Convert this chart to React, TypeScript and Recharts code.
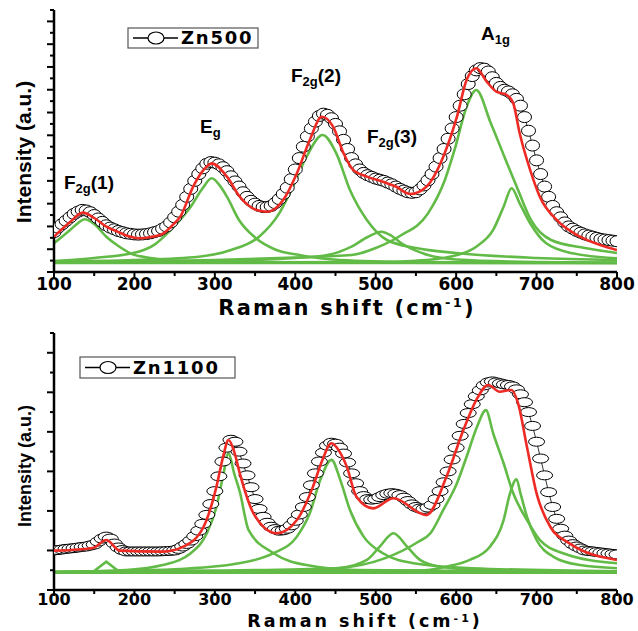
import React from "react";
import { ComposedChart, Line, XAxis, YAxis } from "recharts";

type Pt = [number, number];

// Raman shift grid of the measured points (cm-1)
const ramanShift = [
  100, 105, 110, 115, 120, 125, 130, 135, 140, 145, 150, 155, 160, 165, 170, 175, 180, 185, 190, 195,
  200, 205, 210, 215, 220, 225, 230, 235, 240, 245, 250, 255, 260, 265, 270, 275, 280, 285, 290, 295,
  300, 305, 310, 315, 320, 325, 330, 335, 340, 345, 350, 355, 360, 365, 370, 375, 380, 385, 390, 395,
  400, 405, 410, 415, 420, 425, 430, 435, 440, 445, 450, 455, 460, 465, 470, 475, 480, 485, 490, 495,
  500, 505, 510, 515, 520, 525, 530, 535, 540, 545, 550, 555, 560, 565, 570, 575, 580, 585, 590, 595,
  600, 605, 610, 615, 620, 625, 630, 635, 640, 645, 650, 655, 660, 665, 670, 675, 680, 685, 690, 695,
  700, 705, 710, 715, 720, 725, 730, 735, 740, 745, 750, 755, 760, 765, 770, 775, 780, 785, 790, 795,
  800,
];

const X_TICKS = [100, 150, 200, 250, 300, 350, 400, 450, 500, 550, 600, 650, 700, 750, 800];

// ---- Zn500 ----
const zn500Counts = [
  3.5, 3.9, 4.2, 4.5, 4.8, 5.1, 5.3, 5.45, 5.4, 5.25, 5.0, 4.7, 4.4, 4.1, 3.9, 3.75, 3.6, 3.5, 3.4, 3.35,
  3.3, 3.28, 3.3, 3.33, 3.4, 3.5, 3.6, 3.8, 4.0, 4.35, 4.8, 5.3, 5.9, 6.6, 7.3, 8.0, 8.6, 9.1, 9.5, 9.65,
  9.6, 9.45, 9.2, 8.85, 8.4, 7.95, 7.5, 7.0, 6.6, 6.25, 6.0, 5.8, 5.7, 5.7, 5.8, 6.05, 6.4, 6.85, 7.4, 8.15,
  9.0, 10.0, 11.0, 11.9, 12.6, 13.2, 13.7, 13.9, 13.8, 13.5, 13.0, 12.35, 11.6, 10.8, 10.0, 9.45, 9.0, 8.7, 8.5, 8.35,
  8.2, 8.1, 8.0, 7.85, 7.7, 7.5, 7.3, 7.15, 7.0, 6.95, 7.0, 7.25, 7.6, 8.05, 8.6, 9.25, 10.0, 10.8, 11.7, 12.6,
  13.6, 14.6, 15.6, 16.5, 17.2, 17.7, 17.9, 17.85, 17.6, 17.1, 16.6, 16.25, 16.0, 15.85, 15.6, 15.2, 14.6, 13.6, 12.4, 11.1,
  9.8, 8.6, 7.5, 6.6, 5.8, 5.25, 4.8, 4.35, 4.0, 3.8, 3.6, 3.45, 3.3, 3.2, 3.1, 3.0, 2.9, 2.85, 2.8, 2.75,
  2.7,
];

const zn500Fit: Pt[] = [
  [100, 3.1], [120, 4.39], [136, 5.21], [150, 4.74], [165, 3.98], [180, 3.51], [195, 3.1], [207, 2.96],
  [220, 3.07], [236, 3.4], [250, 4.3], [257, 4.86], [273, 7.49], [286, 8.96], [296, 9.54], [315, 8.37],
  [331, 6.61], [352, 5.44], [365, 5.29], [385, 6.32], [402, 8.67], [418, 11.59], [433, 13.63], [447, 12.76],
  [460, 10.42], [472, 8.96], [489, 8.37], [510, 7.9], [525, 7.5], [543, 6.85], [563, 7.49], [584, 10.12],
  [601, 13.63], [613, 16.86], [625, 17.88], [638, 16.71], [650, 15.83], [663, 15.54], [671, 14.81],
  [679, 12.18], [692, 8.96], [704, 6.61], [725, 4.57], [754, 3.1], [779, 2.37], [800, 1.93],
];

const zn500Baseline: Pt[] = [[100, 0.79], [800, 0.79]];
const zn500F2g1: Pt[] = [
  [100, 2.52], [110, 3.1], [120, 3.69], [130, 4.3], [138, 4.63], [150, 4.21], [165, 3.1], [180, 2.28],
  [195, 1.64], [220, 1.23], [250, 1.01], [300, 0.88], [400, 0.83], [800, 0.79],
];
const zn500Eg: Pt[] = [
  [100, 0.97], [150, 1.23], [205, 1.78], [225, 2.4], [245, 3.69], [270, 5.73], [285, 7.37], [296, 8.23],
  [306, 7.6], [315, 6.61], [330, 4.57], [350, 3.03], [375, 1.98], [405, 1.49], [455, 1.05], [550, 0.88], [800, 0.79],
];
const zn500F2g2: Pt[] = [
  [100, 0.92], [200, 1.05], [280, 1.34], [320, 1.93], [355, 3.1], [380, 5.15], [397, 7.49], [414, 10.12],
  [434, 12.03], [451, 10.42], [468, 7.2], [489, 4.57], [514, 2.81], [550, 2.11], [600, 1.67], [700, 1.23], [800, 1.05],
];
const zn500F2g3: Pt[] = [
  [100, 0.83], [350, 1.05], [400, 1.23], [440, 1.49], [470, 2.22], [490, 3.07], [507, 3.54], [520, 3.16],
  [532, 2.52], [565, 1.49], [600, 1.1], [700, 0.88], [800, 0.83],
];
const zn500A1g: Pt[] = [
  [100, 0.88], [300, 1.05], [400, 1.27], [470, 1.49], [500, 2.1], [530, 3.16], [565, 5.15], [586, 8.08],
  [598, 10.71], [613, 14.51], [625, 15.98], [643, 13.08], [660, 10.12], [677, 7.2], [693, 4.57], [718, 2.81],
  [760, 2.11], [800, 1.67],
];
const zn500A1gShoulder: Pt[] = [
  [100, 0.81], [500, 0.88], [550, 0.99], [592, 1.34], [625, 2.22], [646, 3.69], [659, 5.73], [669, 7.35],
  [679, 6.03], [692, 4.28], [712, 2.52], [745, 1.64], [800, 1.2],
];

// ---- Zn1100 ----
const zn1100Counts = [
  2.0, 2.02, 2.05, 2.08, 2.1, 2.12, 2.15, 2.18, 2.2, 2.25, 2.3, 2.45, 2.6, 2.7, 2.6, 2.35, 2.15, 2.02, 1.95, 1.95,
  1.95, 1.95, 1.95, 1.95, 1.95, 1.95, 1.95, 1.96, 1.97, 1.98, 2.0, 2.08, 2.2, 2.33, 2.5, 2.72, 3.0, 3.35, 3.8, 4.35,
  5.0, 5.75, 6.5, 7.2, 7.6, 7.5, 7.0, 6.4, 5.8, 5.2, 4.6, 4.1, 3.7, 3.4, 3.2, 3.08, 3.0, 3.02, 3.1, 3.27,
  3.5, 3.82, 4.2, 4.7, 5.3, 5.9, 6.5, 6.95, 7.3, 7.45, 7.4, 7.2, 6.9, 6.45, 5.9, 5.4, 5.0, 4.75, 4.6, 4.57,
  4.6, 4.7, 4.8, 4.87, 4.9, 4.87, 4.8, 4.67, 4.5, 4.33, 4.2, 4.12, 4.1, 4.17, 4.3, 4.6, 5.0, 5.45, 6.0, 6.6,
  7.2, 7.8, 8.4, 8.95, 9.4, 9.8, 10.1, 10.35, 10.5, 10.55, 10.5, 10.45, 10.4, 10.37, 10.3, 10.15, 9.9, 9.5, 9.0, 8.3,
  7.5, 6.65, 5.8, 4.95, 4.2, 3.6, 3.1, 2.75, 2.5, 2.32, 2.2, 2.1, 2.0, 1.97, 1.95, 1.92, 1.9, 1.87, 1.85, 1.82,
  1.8,
];

const zn1100Fit: Pt[] = [
  [100, 1.99], [130, 2.05], [149, 2.14], [165, 2.53], [182, 1.99], [236, 1.94], [261, 2.19], [286, 3.2],
  [302, 5.23], [310, 6.7], [317, 7.59], [324, 7.0], [331, 5.9], [348, 3.88], [377, 2.87], [402, 3.54],
  [422, 5.23], [433, 6.5], [445, 7.42], [455, 7.0], [464, 6.24], [476, 4.72], [497, 4.13], [522, 4.64],
  [563, 3.79], [588, 5.73], [609, 8.09], [625, 9.61], [640, 10.37], [654, 10.03], [669, 10.12], [677, 9.44],
  [688, 7.25], [700, 4.89], [717, 3.2], [741, 2.36], [800, 1.52],
];

const zn1100Baseline: Pt[] = [[100, 0.88], [800, 0.88]];
const zn1100Band165: Pt[] = [[100, 0.88], [148, 0.9], [165, 1.43], [182, 0.9], [800, 0.88]];
const zn1100Eg: Pt[] = [
  [100, 0.9], [190, 1.01], [235, 1.26], [270, 1.86], [290, 2.87], [302, 4.21], [310, 5.73], [317, 6.91],
  [324, 5.9], [331, 4.97], [342, 3.03], [373, 1.86], [414, 1.26], [476, 1.01], [800, 0.9],
];
const zn1100F2g2: Pt[] = [
  [100, 0.92], [250, 1.05], [330, 1.35], [373, 1.86], [402, 2.7], [418, 3.88], [431, 5.56], [445, 6.58],
  [456, 5.56], [468, 4.05], [485, 2.7], [509, 1.86], [547, 1.35], [620, 1.1], [800, 0.95],
];
const zn1100F2g3: Pt[] = [
  [100, 0.9], [400, 0.95], [455, 1.1], [489, 1.52], [505, 2.19], [522, 2.87], [539, 2.19], [555, 1.52],
  [580, 1.18], [650, 0.98], [800, 0.9],
];
const zn1100A1g: Pt[] = [
  [100, 0.92], [300, 0.98], [449, 1.1], [511, 1.6], [553, 2.44], [568, 2.87], [584, 4.05], [601, 5.4],
  [613, 6.74], [626, 8.26], [637, 9.1], [646, 7.93], [659, 6.41], [671, 4.89], [688, 3.54], [704, 2.53],
  [733, 1.86], [800, 1.35],
];
const zn1100A1gShoulder: Pt[] = [
  [100, 0.9], [550, 0.98], [588, 1.18], [617, 1.52], [642, 2.19], [659, 3.54], [667, 4.89], [675, 5.6],
  [680, 4.89], [688, 3.71], [700, 2.53], [721, 1.68], [754, 1.26], [800, 1.1],
];

const GREEN = "#62bb46";
const RED = "#ee2a24";
const BOLD_FONT = "'DejaVu Sans', sans-serif";
const LABEL_FONT = "'Liberation Sans', Arial, sans-serif";

const PLOT_LEFT = 54;
const PLOT_RIGHT = 617;

const rows = (pts: Pt[]) => pts.map(([x, y]) => ({ x, y }));

type PanelProps = {
  height: number;
  plotTop: number;
  plotBottom: number;
  yMax: number;
  counts: number[];
  fit: Pt[];
  components: { pts: Pt[]; linear?: boolean }[];
  ringRx: number;
  ringRy: number;
  legend: string;
  legendBox: { x: number; y: number; w: number; h: number };
  yTitle: { x: number; y: number; size: number };
  tickDy: number;
  tickSize: number;
  xTitleX: number;
  xTitleDy: number;
  xTitleSize: number;
  xTitleSpacing: number;
  supDy: number;
  supSize: number;
  children?: React.ReactNode;
};

function Panel(p: PanelProps) {
  const points = ramanShift.map((x, i) => ({ x, y: p.counts[i] }));
  const yTicks = Array.from({ length: p.yMax + 1 }, (_, i) => i);

  const XTick = (props: any) => {
    const { x, payload } = props;
    const major = payload.value % 100 === 0;
    return (
      <g>
        <line x1={x} x2={x} y1={p.plotBottom} y2={p.plotBottom + (major ? 6 : 4)} stroke="#000" strokeWidth={2} />
        {major && (
          <text x={x} y={p.plotBottom + p.tickDy} textAnchor="middle" fontFamily={BOLD_FONT} fontWeight="bold" fontSize={p.tickSize} fill="#000">
            {payload.value}
          </text>
        )}
      </g>
    );
  };

  const YTick = (props: any) => {
    const { y, payload } = props;
    const len = payload.value % 2 === 0 ? 7 : 4;
    return <line x1={PLOT_LEFT - len} x2={PLOT_LEFT} y1={y} y2={y} stroke="#000" strokeWidth={2} />;
  };

  const Ring = (props: any) => {
    const { cx, cy, index } = props;
    if (cx == null || cy == null) return <g key={index} />;
    return <ellipse key={index} cx={cx} cy={cy} rx={p.ringRx} ry={p.ringRy} fill="#fff" stroke="#000" strokeWidth={1} />;
  };

  const lb = p.legendBox;
  const cy = lb.y + lb.h / 2;

  return (
    <div style={{ position: "relative", width: 638, height: p.height }}>
      <div style={{ position: "absolute", left: 0, top: 0 }}>
        <ComposedChart
          width={638}
          height={p.height}
          margin={{ top: p.plotTop, right: 638 - PLOT_RIGHT, bottom: p.height - p.plotBottom - 30, left: PLOT_LEFT - 10 }}
        >
          <XAxis
            dataKey="x"
            type="number"
            domain={[100, 800]}
            ticks={X_TICKS}
            interval={0}
            allowDataOverflow
            height={30}
            tickLine={false}
            axisLine={{ stroke: "#000", strokeWidth: 2.5 }}
            tick={<XTick />}
          />
          <XAxis xAxisId="top" orientation="top" type="number" domain={[100, 800]} height={0} tick={false} tickLine={false} axisLine={{ stroke: "#000", strokeWidth: 2.5 }} />
          <YAxis
            type="number"
            domain={[0, p.yMax]}
            ticks={yTicks}
            interval={0}
            allowDataOverflow
            width={10}
            tickLine={false}
            axisLine={{ stroke: "#000", strokeWidth: 2.5 }}
            tick={<YTick />}
          />
          <YAxis yAxisId="right" orientation="right" type="number" domain={[0, p.yMax]} width={0} tick={false} tickLine={false} axisLine={{ stroke: "#000", strokeWidth: 2.5 }} />

          {p.components.map((c, i) => (
            <Line
              key={"c" + i}
              data={rows(c.pts)}
              dataKey="y"
              type={c.linear ? "linear" : "monotone"}
              stroke={GREEN}
              strokeWidth={2.6}
              dot={false}
              isAnimationActive={false}
            />
          ))}
          <Line data={points} dataKey="y" type="linear" stroke="#000" strokeWidth={0.8} dot={<Ring />} isAnimationActive={false} />

          {/* legend */}
          <rect x={lb.x} y={lb.y} width={lb.w} height={lb.h} fill="#fff" stroke="#555" strokeWidth={1.2} />
          <line x1={lb.x + 5} x2={lb.x + 50} y1={cy} y2={cy} stroke="#000" strokeWidth={1.5} />
          <ellipse cx={lb.x + 28} cy={cy} rx={8} ry={6} fill="#fff" stroke="#000" strokeWidth={1.2} />
          <text x={lb.x + 53} y={cy + 6} fontFamily={BOLD_FONT} fontWeight="bold" fontSize={18} letterSpacing={1.8} fill="#000">
            {p.legend}
          </text>

          {/* axis titles */}
          <text
            x={p.yTitle.x}
            y={p.yTitle.y}
            transform={`rotate(-90, ${p.yTitle.x}, ${p.yTitle.y})`}
            textAnchor="middle"
            fontFamily={LABEL_FONT}
            fontWeight="bold"
            fontSize={p.yTitle.size}
            fill="#000"
          >
            Intensity (a.u.)
          </text>
          <text
            x={p.xTitleX}
            y={p.plotBottom + p.xTitleDy}
            textAnchor="middle"
            fontFamily={BOLD_FONT}
            fontWeight="bold"
            fontSize={p.xTitleSize}
            letterSpacing={p.xTitleSpacing}
            fill="#000"
          >
            Raman shift (cm<tspan dy={-p.supDy} fontSize={p.supSize}>-1</tspan>
            <tspan dy={p.supDy}>)</tspan>
          </text>
          {p.children}
        </ComposedChart>
      </div>
      {/* fitted envelope drawn above the data markers */}
      <div style={{ position: "absolute", left: 0, top: 0, pointerEvents: "none" }}>
        <ComposedChart
          width={638}
          height={p.height}
          margin={{ top: p.plotTop, right: 638 - PLOT_RIGHT, bottom: p.height - p.plotBottom, left: PLOT_LEFT }}
        >
          <XAxis dataKey="x" type="number" domain={[100, 800]} allowDataOverflow hide />
          <YAxis type="number" domain={[0, p.yMax]} allowDataOverflow hide />
          <Line data={rows(p.fit)} dataKey="y" type="monotone" stroke={RED} strokeWidth={2.6} dot={false} isAnimationActive={false} />
        </ComposedChart>
      </div>
    </div>
  );
}

const PeakLabel = ({ x, y, main, sub, tail }: { x: number; y: number; main: string; sub: string; tail?: string }) => (
  <text x={x} y={y} fontFamily={LABEL_FONT} fontWeight="bold" fontSize={19} fill="#000">
    {main}
    <tspan fontSize={13} dy={4}>{sub}</tspan>
    {tail ? <tspan dy={-4} fontSize={19}>{tail}</tspan> : null}
  </text>
);

export default function App() {
  return (
    <div style={{ position: "absolute", left: 0, top: 0, width: 638, height: 631, background: "#fff" }}>
      <div style={{ position: "absolute", left: 0, top: 0 }}>
        <Panel
          height={320}
          plotTop={10}
          plotBottom={272}
          yMax={23}
          counts={zn500Counts}
          fit={zn500Fit}
          components={[
            { pts: zn500Baseline },
            { pts: zn500F2g1 },
            { pts: zn500Eg },
            { pts: zn500F2g2 },
            { pts: zn500F2g3 },
            { pts: zn500A1g },
            { pts: zn500A1gShoulder },
          ]}
          ringRx={7}
          ringRy={5.5}
          legend="Zn500"
          legendBox={{ x: 128, y: 28, w: 130, h: 20 }}
          yTitle={{ x: 31, y: 152, size: 21 }}
          tickDy={18}
          tickSize={17}
          xTitleX={347}
          xTitleDy={43}
          xTitleSize={21}
          xTitleSpacing={2.2}
          supDy={8}
          supSize={13}
        >
          <PeakLabel x={64} y={189} main="F" sub="2g" tail="(1)" />
          <PeakLabel x={200} y={133} main="E" sub="g" />
          <PeakLabel x={291} y={82} main="F" sub="2g" tail="(2)" />
          <PeakLabel x={367} y={143} main="F" sub="2g" tail="(3)" />
          <PeakLabel x={481} y={40} main="A" sub="1g" />
        </Panel>
      </div>
      <div style={{ position: "absolute", left: 0, top: 320 }}>
        <Panel
          height={311}
          plotTop={13}
          plotBottom={270}
          yMax={13}
          counts={zn1100Counts}
          fit={zn1100Fit}
          components={[
            { pts: zn1100Baseline },
            { pts: zn1100Band165, linear: true },
            { pts: zn1100Eg },
            { pts: zn1100F2g2 },
            { pts: zn1100F2g3 },
            { pts: zn1100A1g },
            { pts: zn1100A1gShoulder },
          ]}
          ringRx={8}
          ringRy={4.5}
          legend="Zn1100"
          legendBox={{ x: 80, y: 37, w: 155, h: 21 }}
          yTitle={{ x: 31, y: 146, size: 18 }}
          tickDy={15}
          tickSize={16}
          xTitleX={365}
          xTitleDy={37}
          xTitleSize={17.5}
          xTitleSpacing={3}
          supDy={5}
          supSize={11}
        />
      </div>
    </div>
  );
}
